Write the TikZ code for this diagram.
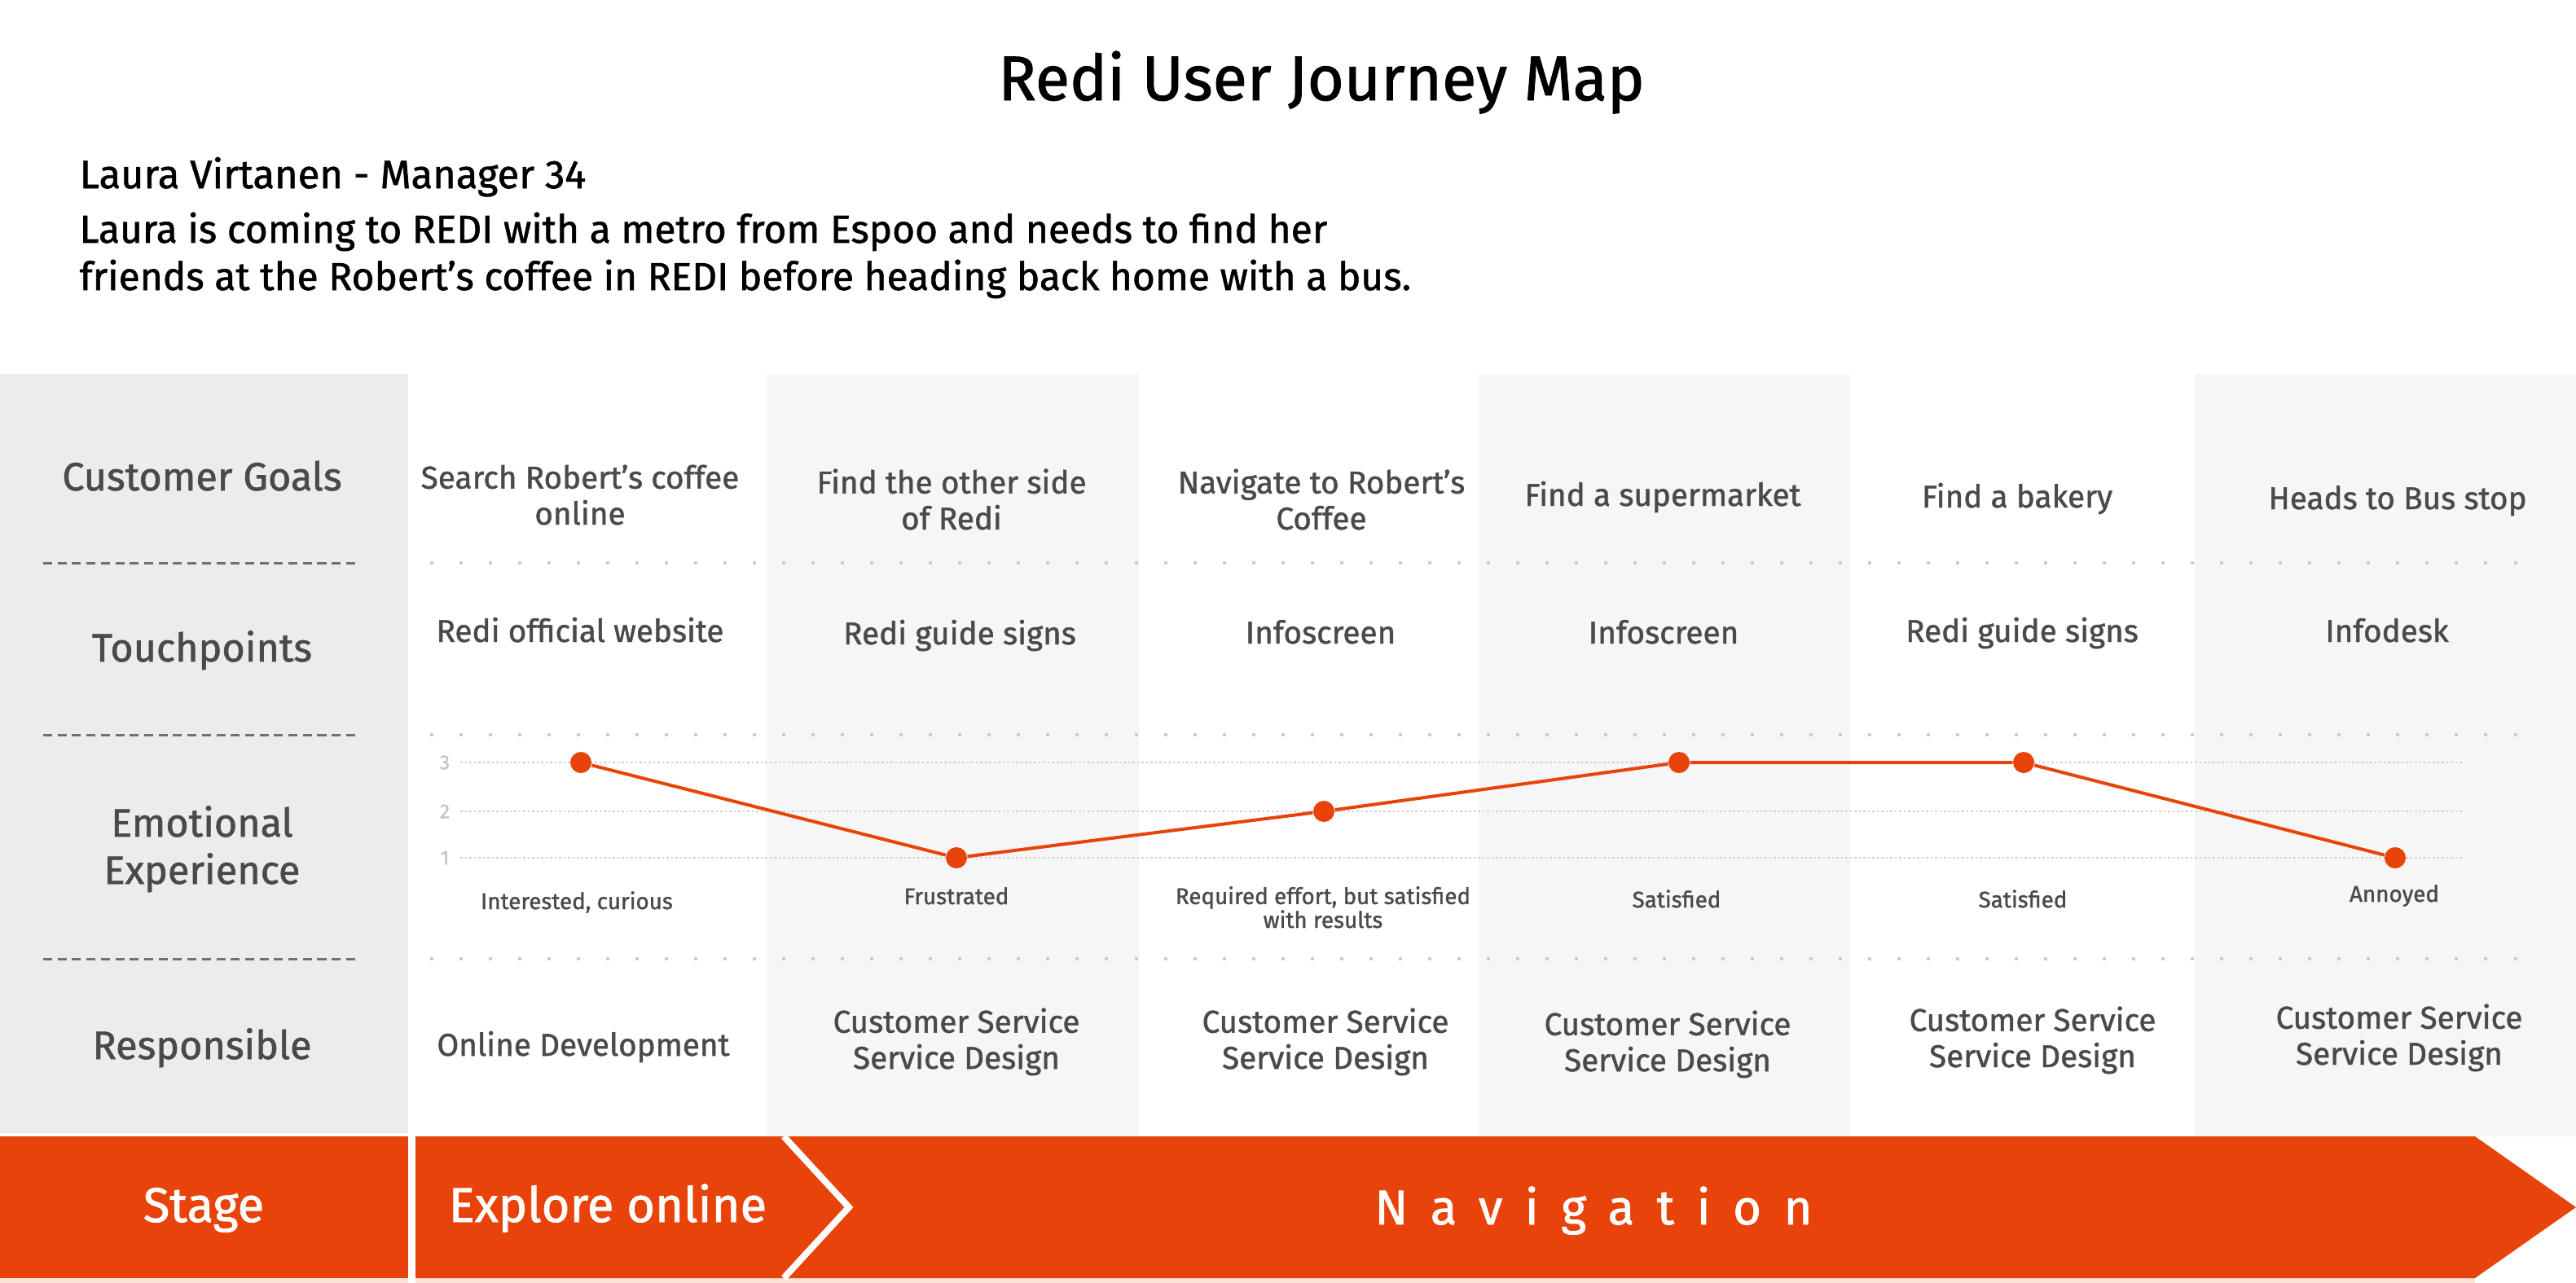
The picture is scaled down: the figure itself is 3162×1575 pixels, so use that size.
\documentclass[tikz,border=0pt]{standalone}
\usepackage{fontspec}
\setmainfont{Fira Sans}[FakeBold=1.2]
\usetikzlibrary{positioning}

\definecolor{rediorange}{HTML}{E8430A}
\definecolor{headgray}{HTML}{ECECEC}
\definecolor{colgray}{HTML}{F6F6F6}
\definecolor{textgray}{HTML}{4A4A4A}
\definecolor{gridgray}{HTML}{D0D0D0}
\definecolor{dotgray}{HTML}{CCCCCC}
\definecolor{dashgray}{HTML}{707070}
\definecolor{levelgray}{HTML}{C4C4C4}
\definecolor{stripe}{HTML}{FBE2D7}

\tikzset{
  rowlab/.style={anchor=base, align=center, text=textgray, font=\fontsize{13.8}{16.5}\selectfont},
  cell/.style={anchor=base, align=center, text=textgray, font=\fontsize{11}{12.6}\selectfont},
  mood/.style={anchor=base, align=center, text=textgray, font=\fontsize{7.9}{8.3}\selectfont},
  level/.style={text=levelgray, font=\fontsize{7}{8}\selectfont},
  mooddot/.style={circle, fill=rediorange, inner sep=0pt, minimum size=0.26cm},
  moodline/.style={rediorange, line width=0.04cm},
  gridline/.style={gridgray, line width=0.02cm, dash pattern=on 0.025cm off 0.03cm},
  sepdots/.style={dotgray, line width=0.04cm, dash pattern=on 0.04cm off 0.32cm},
  sepdash/.style={dashgray, line width=0.03cm, dash pattern=on 0.11cm off 0.067cm},
  stagetxt/.style={anchor=base, text=white, font=\fontsize{17}{20}\selectfont},
}

\begin{document}
\begin{tikzpicture}[x=0.01cm, y=-0.01cm]
    \useasboundingbox (0,0) rectangle (3162,1575);
    % heading
    \node[anchor=base, font=\fontsize{22}{26}\selectfont] (title) at (1622,123) {Redi User Journey Map};
    \node[anchor=base west, inner sep=0pt, font=\fontsize{13.9}{16.5}\selectfont] (persona) at (97,231) {Laura Virtanen - Manager 34};
    \node[anchor=base west, inner sep=0pt, align=left, font=\fontsize{13.6}{16.5}\selectfont] (story) at (97,356)
        {Laura is coming to REDI with a metro from Espoo and needs to find her\\friends at the Robert’s coffee in REDI before heading back home with a bus.};

    % columns
    \fill[headgray] (0,459) rectangle (501,1391);
    \foreach \xa/\xb/\c in {501/941/white, 941/1398/colgray, 1398/1815/white, 1815/2271/colgray, 2271/2694/white, 2694/3162/colgray} {
        \fill[\c] (\xa,459) rectangle (\xb,1395);
    }
    \foreach \y in {691,902,1177} {
        \draw[sepdash] (53,\y) -- (442,\y);
        \draw[sepdots] (528,\y) -- (3090,\y);
    }

    % row labels
    \node[rowlab] (goals) at (248,602) {Customer Goals};
    \node[rowlab] (touch) at (248,812) {Touchpoints};
    \node[rowlab] (emo) at (248,1085) {Emotional\\Experience};
    \node[rowlab] (resp) at (248,1300) {Responsible};

    % customer goals
    \foreach \n/\x/\y/\t in {1/712/644/{Search Robert’s coffee\\online}, 2/1168/650/{Find the other side\\of Redi},
        3/1622/650/{Navigate to Robert’s\\Coffee}, 4/2041/621/{Find a supermarket}, 5/2476/623/{Find a bakery}, 6/2943/625/{Heads to Bus stop}} {
        \node[cell] (goal\n) at (\x,\y) {\t};
    }
    % touchpoints
    \foreach \n/\x/\y/\t in {1/712/788/{Redi official website}, 2/1178/791/{Redi guide signs}, 3/1621/790/{Infoscreen},
        4/2042/790/{Infoscreen}, 5/2482/788/{Redi guide signs}, 6/2930/788/{Infodesk}} {
        \node[cell] (tp\n) at (\x,\y) {\t};
    }

    % emotional experience
    \foreach \lv/\y in {3/936,2/996,1/1053} {
        \node[level] (lv\lv) at (546,\y) {\lv};
        \draw[gridline] (565,\y) -- (3024,\y);
    }
    \foreach \n/\x/\y in {1/713/936, 2/1174/1053, 3/1625/996, 4/2061/936, 5/2484/936, 6/2940/1053} {
        \node[mooddot] (p\n) at (\x,\y) {};
    }
    \draw[moodline] (p1) -- (p2) -- (p3) -- (p4) -- (p5) -- (p6);
    \foreach \n/\x/\y/\t in {1/708/1116/{Interested, curious}, 2/1174/1110/{Frustrated}, 3/1624/1139/{Required effort, but satisfied\\with results},
        4/2058/1114/{Satisfied}, 5/2483/1114/{Satisfied}, 6/2939/1107/{Annoyed}} {
        \node[mood] (feel\n) at (\x,\y) {\t};
    }

    % responsible
    \node[cell] (own1) at (716,1296) {Online Development};
    \foreach \n/\x/\y in {2/1174/1312, 3/1627/1312, 4/2047/1315, 5/2495/1310, 6/2945/1307} {
        \node[cell] (own\n) at (\x,\y) {Customer Service\\Service Design};
    }

    % stage bar
    \fill[stripe] (0,1569) rectangle (501,1575);
    \fill[stripe] (510,1569) rectangle (3038,1575);
    \fill[rediorange] (0,1395) rectangle (501,1569);
    \fill[rediorange] (510,1395) -- (3038,1395) -- (3162,1482) -- (3038,1569) -- (510,1569) -- cycle;
    \draw[white, line width=0.08cm] (962,1395) -- (1042,1482) -- (962,1569);
    \node[stagetxt] (stage) at (250,1500) {Stage};
    \node[stagetxt] (explore) at (746,1500) {Explore online};
    \node[stagetxt, font=\fontsize{17}{20}\selectfont\addfontfeatures{LetterSpace=46}] (navi) at (1956,1503) {Navigation};
\end{tikzpicture}
\end{document}
